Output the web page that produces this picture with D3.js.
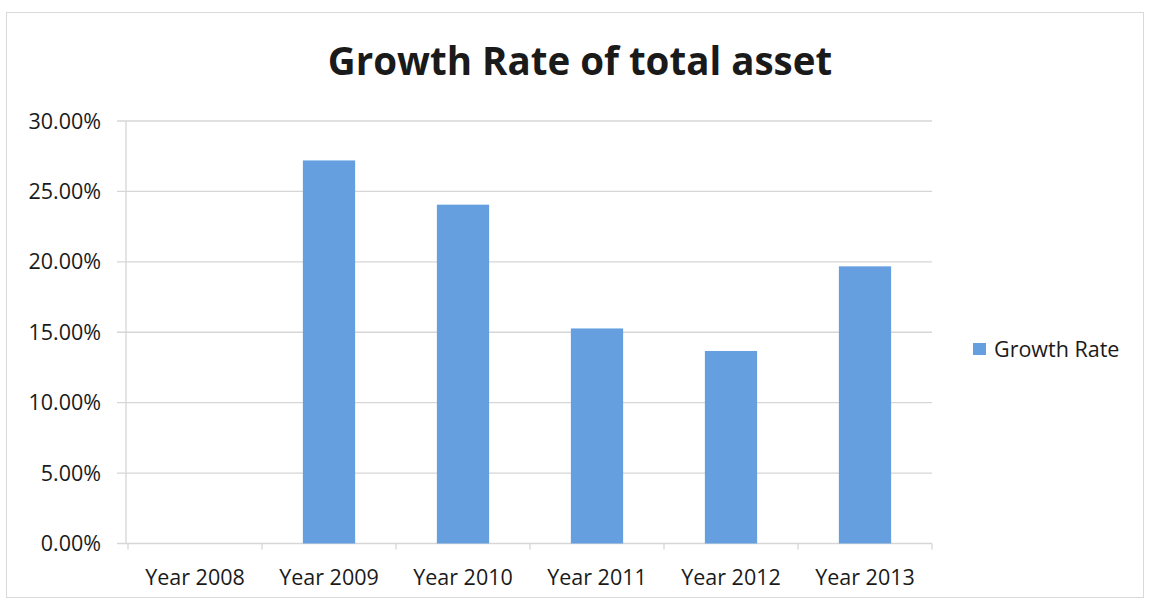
<!DOCTYPE html>
<html>
<head>
<meta charset="utf-8">
<script src="https://cdn.jsdelivr.net/npm/d3@7"></script>
<style>
  body { margin: 0; background: #fff; }
  text { font-family: "Open Sans", Lato, sans-serif; fill: #1a1a1a; }
</style>
</head>
<body>
<svg width="1150" height="605"></svg>
<script>
let years = ['Year 2008', 'Year 2009', 'Year 2010', 'Year 2011', 'Year 2012', 'Year 2013']
let growth = [0, 0.272, 0.2406, 0.1527, 0.1367, 0.1968]
let yTicks = [0, 0.05, 0.10, 0.15, 0.20, 0.25, 0.30]
let seriesName = 'Growth Rate'
let title = 'Growth Rate of total asset'

let barColor = '#659fe0'
let gridColor = '#d6d6d6'

let svg = d3.select('svg')

// chart border
svg.append('rect')
    .attr('x', 6.5).attr('y', 12.5)
    .attr('width', 1137).attr('height', 585)
    .attr('fill', '#fff')
    .attr('stroke', '#d9d9d9')

let plotLeft = 128, plotRight = 932, plotTop = 121, plotBottom = 543.5

let x = d3.scaleBand().domain(years).range([plotLeft, plotRight]).paddingInner(0.61).paddingOuter(0.305)
let xTick = d3.scaleBand().domain(years).range([plotLeft, plotRight])
let y = d3.scaleLinear().domain([0, 0.3]).range([plotBottom, plotTop])

// gridlines
svg.append('g')
    .selectAll('line')
    .data(yTicks)
    .enter()
    .append('line')
    .attr('x1', plotLeft - 11)
    .attr('x2', plotRight)
    .attr('y1', d => y(d))
    .attr('y2', d => y(d))
    .attr('stroke', gridColor)
    .attr('stroke-width', 1.3)

// y axis line
svg.append('line')
    .attr('x1', plotLeft - 2).attr('x2', plotLeft - 2)
    .attr('y1', plotTop).attr('y2', plotBottom)
    .attr('stroke', gridColor)
    .attr('stroke-width', 1.3)

// y labels
svg.append('g')
    .selectAll('text')
    .data(yTicks)
    .enter()
    .append('text')
    .attr('x', 101)
    .attr('y', d => y(d))
    .attr('dy', '0.35em')
    .attr('text-anchor', 'end')
    .attr('font-size', 21.5)
    .text(d3.format('.2%'))

// category ticks
let tickPos = years.map(d => xTick(d)).concat([plotRight])
svg.append('g')
    .selectAll('line')
    .data(tickPos)
    .enter()
    .append('line')
    .attr('x1', d => d).attr('x2', d => d)
    .attr('y1', plotBottom).attr('y2', plotBottom + 6)
    .attr('stroke', gridColor)
    .attr('stroke-width', 1.3)

// bars
svg.append('g')
    .selectAll('rect')
    .data(growth)
    .enter()
    .append('rect')
    .attr('x', (d, i) => x(years[i]))
    .attr('width', x.bandwidth())
    .attr('y', d => y(d))
    .attr('height', d => plotBottom - y(d))
    .attr('fill', barColor)

// x labels
svg.append('g')
    .selectAll('text')
    .data(years)
    .enter()
    .append('text')
    .attr('x', d => xTick(d) + xTick.bandwidth() / 2)
    .attr('y', 577)
    .attr('dy', '0.35em')
    .attr('text-anchor', 'middle')
    .attr('font-size', 21.5)
    .text(d => d)

// title
svg.append('text')
    .attr('x', 580)
    .attr('y', 62)
    .attr('dy', '0.35em')
    .attr('text-anchor', 'middle')
    .attr('font-size', 38.5)
    .attr('font-weight', 'bold')
    .text(title)

// legend
let legend = svg.append('g')
legend.append('rect')
    .attr('x', 973).attr('y', 343)
    .attr('width', 13).attr('height', 12)
    .attr('fill', barColor)
legend.append('text')
    .attr('x', 994).attr('y', 349)
    .attr('dy', '0.35em')
    .attr('font-size', 21.5)
    .text(seriesName)
</script>
</body>
</html>
